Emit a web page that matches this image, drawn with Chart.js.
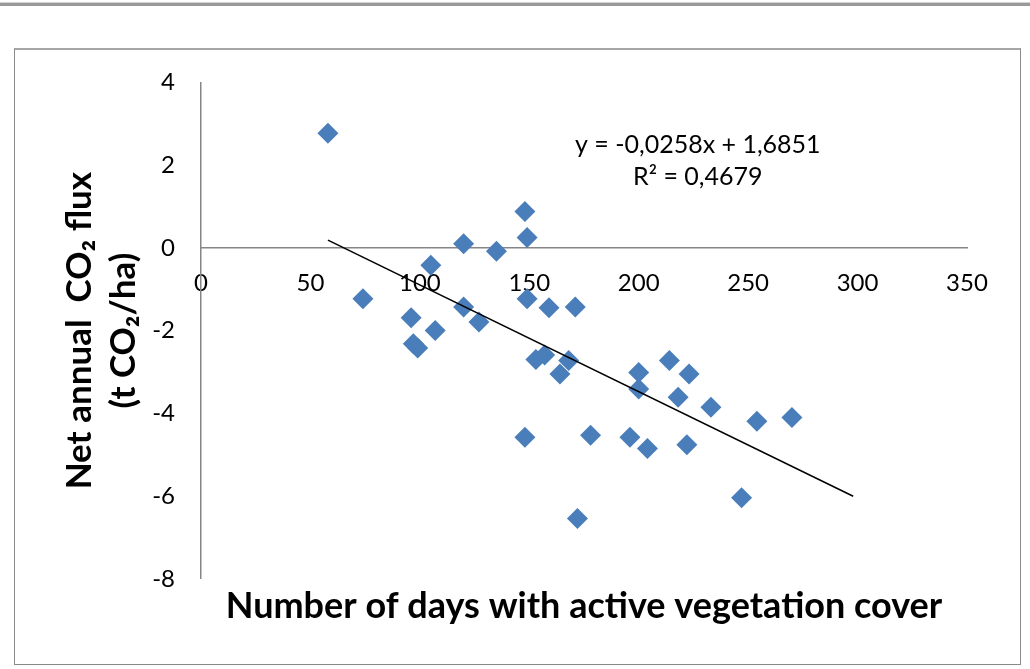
<!DOCTYPE html>
<html>
<head>
<meta charset="utf-8">
<script src="https://cdn.jsdelivr.net/npm/chart.js@4.4.1/dist/chart.umd.min.js"></script>
<style>
body { margin: 0; background: #fff; width: 1030px; height: 669px; overflow: hidden; position: relative; }
#bar { position: absolute; left: 0; top: 2px; width: 1030px; height: 3px; background: #999; border-top: 1px solid #d4d4d4; }
#frame { position: absolute; left: 14px; top: 48px; width: 1005px; height: 614px; border: 1px solid #8a8a8a; border-top: 2px solid #a6a6a6; }
canvas { display: block; margin-top: -8px; }
</style>
</head>
<body>
<div id="bar"></div>
<div id="frame"><canvas id="myChart" width="1005" height="622"></canvas></div>
<script>
// days with active vegetation cover vs net annual CO2 flux
const days = [58, 148, 149, 120, 135, 105, 74, 149, 159, 171, 120, 96, 127, 107, 97, 99,
    153, 157, 168, 164, 200, 200, 214, 223, 218, 233, 254, 270, 148, 178, 196, 204, 222, 247, 172];
const flux = [2.77, 0.88, 0.25, 0.10, -0.08, -0.42, -1.23, -1.23, -1.45, -1.43, -1.43, -1.69, -1.79, -2.0, -2.32, -2.42,
    -2.70, -2.59, -2.72, -3.05, -3.01, -3.41, -2.72, -3.05, -3.61, -3.85, -4.19, -4.10, -4.58, -4.53, -4.58, -4.85, -4.76, -6.04, -6.54];

// linear trend from the chart: y = -0,0258x + 1,6851
const trendSlope = -0.0258;
const trendIntercept = 1.6851;
const trendDays = [58, 298];
const trendLabel = ['y = -0,0258x + 1,6851', 'R\u00B2 = 0,4679'];

const xTicks = [0, 50, 100, 150, 200, 250, 300, 350];
const yTicks = [-8, -6, -4, -2, 0, 2, 4];

const points = days.map((d, i) => ({ x: d, y: flux[i] }));
const trend = trendDays.map(d => ({ x: d, y: trendSlope * d + trendIntercept }));

const FONT = 'Lato, "Open Sans", sans-serif';

const eqLabel = {
    id: 'eqLabel',
    afterDatasetsDraw(chart) {
        const { ctx, scales } = chart;
        ctx.save();
        ctx.font = '25px ' + FONT;
        ctx.fillStyle = '#000';
        ctx.textAlign = 'center';
        ctx.textBaseline = 'middle';
        const cx = scales.x.getPixelForValue(227);
        ctx.fillText(trendLabel[0], cx, scales.y.getPixelForValue(2.5));
        ctx.fillText(trendLabel[1], cx, scales.y.getPixelForValue(1.72));
        ctx.restore();
    }
};

new Chart(document.getElementById('myChart'), {
    type: 'scatter',
    data: {
        datasets: [{
            type: 'line',
            data: trend,
            borderColor: '#000',
            borderWidth: 1.5,
            pointRadius: 0,
            fill: false
        }, {
            data: points,
            pointStyle: 'rectRot',
            pointRadius: 10.5,
            pointHoverRadius: 10.5,
            backgroundColor: '#4A7EBB',
            borderColor: '#4A7EBB',
            borderWidth: 0
        }]
    },
    options: {
        responsive: false,
        animation: false,
        layout: { padding: { left: 43, top: 24, right: 53, bottom: 36 } },
        plugins: {
            legend: { display: false },
            tooltip: { enabled: false },
            title: {
                display: true,
                position: 'bottom',
                fullSize: false,
                text: 'Number of days with active vegetation cover',
                color: '#000',
                font: { family: FONT, size: 36, weight: 'bold', lineHeight: 1.2 },
                padding: { top: 6, bottom: 0 }
            }
        },
        scales: {
            x: {
                type: 'linear',
                position: { y: 0 },
                min: xTicks[0],
                max: xTicks[xTicks.length - 1],
                afterBuildTicks: s => { s.ticks = xTicks.map(v => ({ value: v })); },
                ticks: { color: '#000', padding: 21, maxRotation: 0, font: { family: FONT, size: 24 } },
                grid: { display: false, drawTicks: false },
                border: { color: '#868686', width: 1.5 }
            },
            y: {
                type: 'linear',
                min: yTicks[0],
                max: yTicks[yTicks.length - 1],
                afterBuildTicks: s => { s.ticks = yTicks.map(v => ({ value: v })); },
                afterFit: s => { s.width = 143; },
                ticks: { color: '#000', padding: 26, font: { family: FONT, size: 24 } },
                grid: { display: false, drawTicks: false },
                border: { color: '#868686', width: 1.5 },
                title: {
                    display: true,
                    text: ['Net annual  CO\u2082 flux', '(t CO\u2082/ha)'],
                    color: '#000',
                    font: { family: FONT, size: 35, weight: 'bold', lineHeight: 1.257 },
                    padding: 0
                }
            }
        }
    },
    plugins: [eqLabel]
});
</script>
</body>
</html>
